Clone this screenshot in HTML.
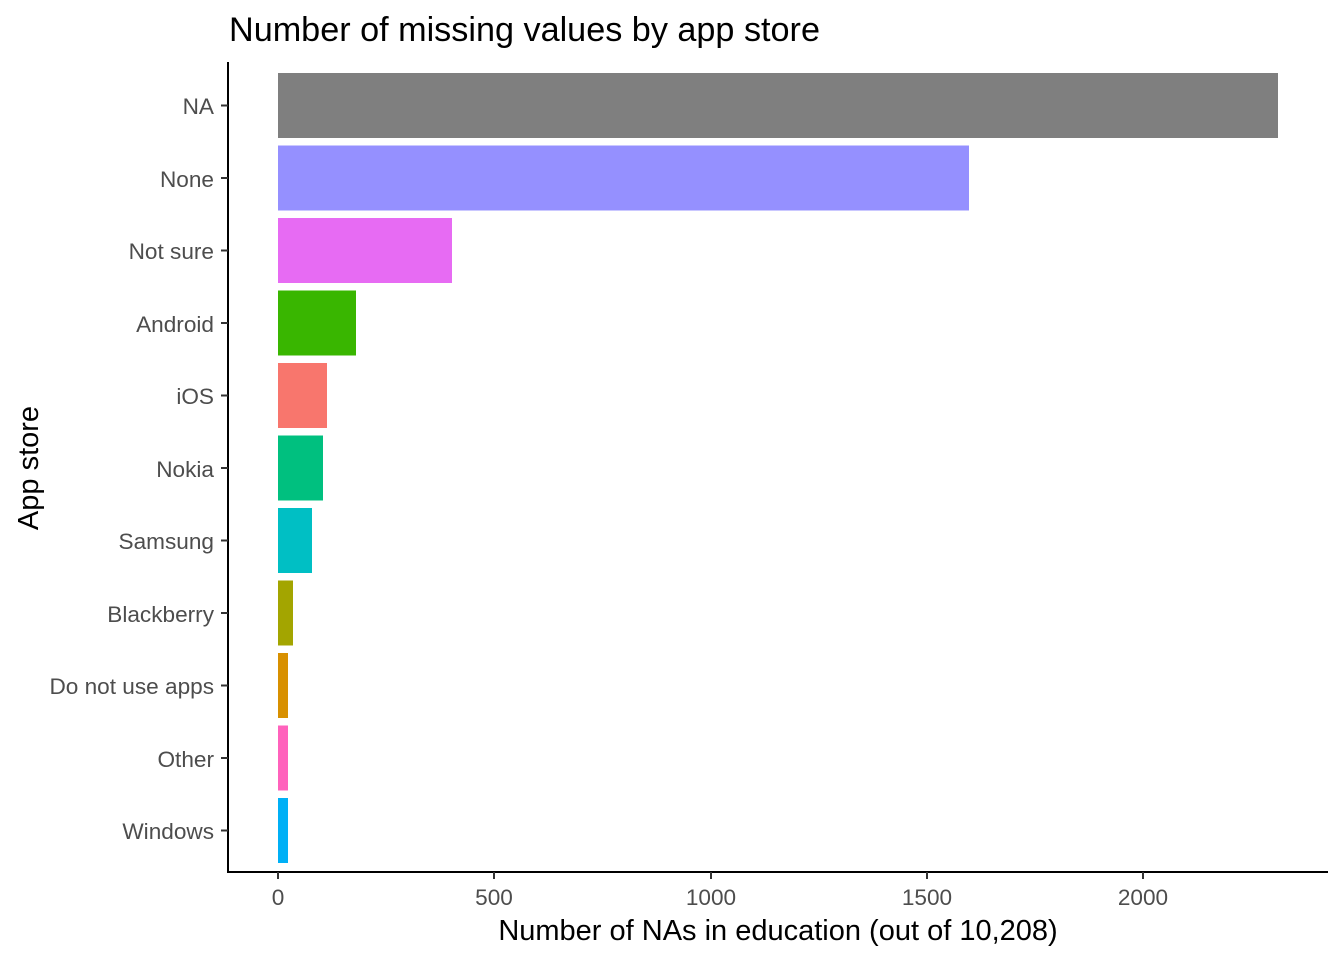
<!DOCTYPE html>
<html><head><meta charset="utf-8"><style>body{margin:0;background:#fff}</style></head><body>
<svg width="1344" height="960" xmlns="http://www.w3.org/2000/svg" font-family="Liberation Sans, sans-serif">
<rect width="1344" height="960" fill="#fff"/>
<text x="229" y="41" font-size="34.2" fill="#000">Number of missing values by app store</text>
<g>
<rect x="278" y="73" width="1000" height="65" fill="#7f7f7f"/>
<rect x="278" y="145.5" width="691" height="65" fill="#9590ff"/>
<rect x="278" y="218" width="174" height="65" fill="#e76bf3"/>
<rect x="278" y="290.5" width="78" height="65" fill="#39b600"/>
<rect x="278" y="363" width="49" height="65" fill="#f8766d"/>
<rect x="278" y="435.5" width="45" height="65" fill="#00c07f"/>
<rect x="278" y="508" width="34" height="65" fill="#00bfc4"/>
<rect x="278" y="580.5" width="15" height="65" fill="#a3a500"/>
<rect x="278" y="653" width="10" height="65" fill="#d89000"/>
<rect x="278" y="725.5" width="10" height="65" fill="#ff62bc"/>
<rect x="278" y="798" width="10" height="65" fill="#00b0f6"/>
</g>
<line x1="228" y1="62" x2="228" y2="873" stroke="#000" stroke-width="2"/>
<line x1="227" y1="872" x2="1328" y2="872" stroke="#000" stroke-width="2"/>
<g stroke="#333" stroke-width="2">
<line x1="221" y1="105.5" x2="228" y2="105.5"/><line x1="221" y1="178" x2="228" y2="178"/>
<line x1="221" y1="250.5" x2="228" y2="250.5"/><line x1="221" y1="323" x2="228" y2="323"/>
<line x1="221" y1="395.5" x2="228" y2="395.5"/><line x1="221" y1="468" x2="228" y2="468"/>
<line x1="221" y1="540.5" x2="228" y2="540.5"/><line x1="221" y1="613" x2="228" y2="613"/>
<line x1="221" y1="685.5" x2="228" y2="685.5"/><line x1="221" y1="758" x2="228" y2="758"/>
<line x1="221" y1="830.5" x2="228" y2="830.5"/>
<line x1="278" y1="872" x2="278" y2="879"/><line x1="494" y1="872" x2="494" y2="879"/>
<line x1="711" y1="872" x2="711" y2="879"/><line x1="927" y1="872" x2="927" y2="879"/>
<line x1="1143" y1="872" x2="1143" y2="879"/>
</g>
<g font-size="22.6" fill="#4d4d4d" text-anchor="end">
<text x="214" y="114">NA</text><text x="214" y="187">None</text>
<text x="214" y="259">Not sure</text><text x="214" y="332">Android</text>
<text x="214" y="404">iOS</text><text x="214" y="477">Nokia</text>
<text x="214" y="549">Samsung</text><text x="214" y="622">Blackberry</text>
<text x="214" y="694">Do not use apps</text><text x="214" y="767">Other</text>
<text x="214" y="839">Windows</text>
</g>
<g font-size="22.6" fill="#4d4d4d" text-anchor="middle">
<text x="278" y="905">0</text><text x="494" y="905">500</text>
<text x="711" y="905">1000</text><text x="927" y="905">1500</text>
<text x="1143" y="905">2000</text>
</g>
<text x="778" y="940" font-size="29" text-anchor="middle" fill="#000">Number of NAs in education (out of 10,208)</text>
<text transform="translate(38,468) rotate(-90)" font-size="29" text-anchor="middle" fill="#000">App store</text>
</svg>
</body></html>
